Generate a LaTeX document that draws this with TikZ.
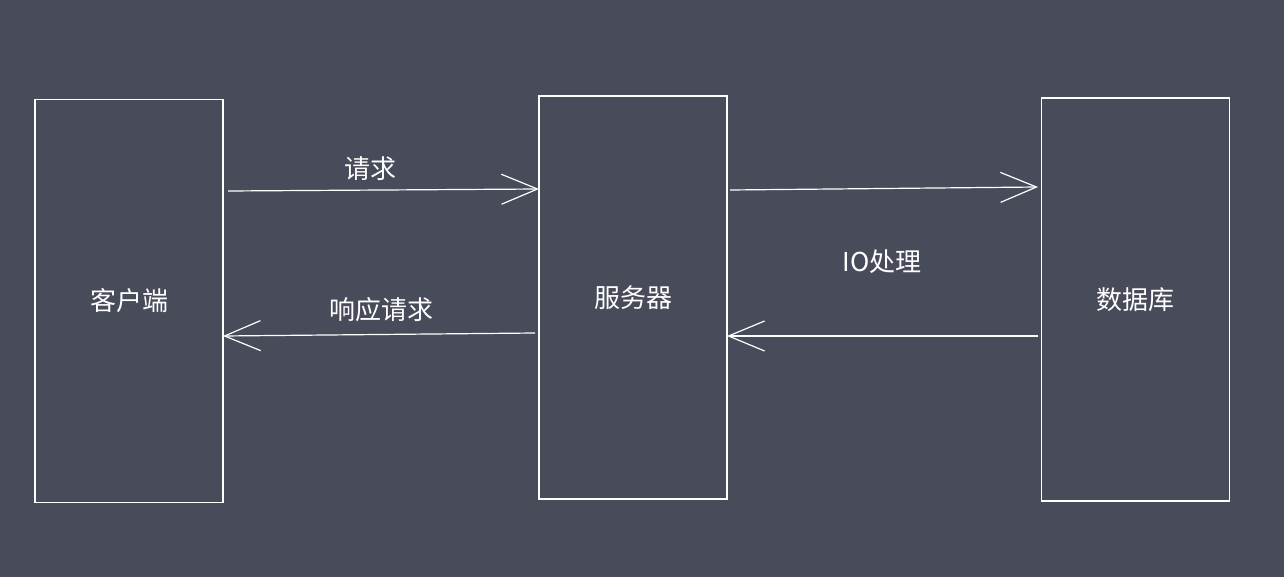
\documentclass[tikz,border=0pt]{standalone}
\usepackage{fontspec}
\setmainfont{Noto Sans CJK SC}
\usetikzlibrary{arrows.meta}
\definecolor{bg}{HTML}{484B5A}
\begin{document}
\begin{tikzpicture}[x=1pt,y=-1pt,
  box/.style={draw=white,line width=1.2pt,minimum width=188pt,minimum height=403pt,inner sep=0pt,text=white,font=\fontsize{26}{30}\selectfont},
  lbl/.style={text=white,font=\fontsize{26}{30}\selectfont},
  conn/.style={draw=white,line width=1.2pt,-{Straight Barb[length=36pt,width=30pt]}}]
\fill[bg] (0,0) rectangle (1284,577);
\useasboundingbox (0,0) rectangle (1284,577);
\node[box] (c) at (129,301) {客户端};
\node[box] (s) at (633,297.5) {服务器};
\node[box] (d) at (1135.5,299.5) {数据库};
\coordinate (c1) at (223,191); \coordinate (s1) at (539,189);
\coordinate (s2) at (539,333); \coordinate (c2) at (223,336);
\coordinate (s3) at (727,190); \coordinate (d3) at (1041,187);
\coordinate (d4) at (1041,336); \coordinate (s4) at (727,336);
\draw[conn] ([xshift=5pt]c1) -- (s1);
\draw[conn] ([xshift=-4pt]s2) -- (c2);
\draw[conn] ([xshift=3pt]s3) -- ([xshift=-3pt]d3);
\draw[conn] ([xshift=-3pt]d4) -- (s4);
\node[lbl] (l1) at (370,169) {请求};
\node[lbl] (l2) at (381,310) {响应请求};
\node[lbl] (l3) at (882,262) {\textit{IO}处理};
\end{tikzpicture}
\end{document}
